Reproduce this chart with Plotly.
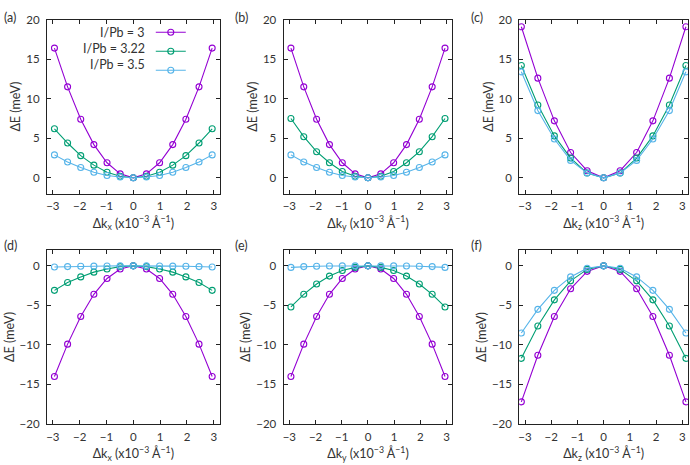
import plotly.graph_objects as go
from plotly.subplots import make_subplots

# ---- data ----
k_xy = [-2.94, -2.45, -1.96, -1.47, -0.98, -0.49, 0.0, 0.49, 0.98, 1.47, 1.96, 2.45, 2.94]
k_z = [-3.14, -2.51, -1.88, -1.26, -0.63, 0.0, 0.63, 1.26, 1.88, 2.51, 3.14]

series_names = ["I/Pb = 3", "I/Pb = 3.22", "I/Pb = 3.5"]
series_colors = ["#9400d3", "#009e73", "#56b4e9"]

# (a) kx, upper band
a_3 = [16.4, 11.5, 7.4, 4.2, 1.9, 0.5, 0.0, 0.5, 1.9, 4.2, 7.4, 11.5, 16.4]
a_322 = [6.2, 4.4, 2.8, 1.6, 0.7, 0.2, 0.0, 0.2, 0.7, 1.6, 2.8, 4.4, 6.2]
a_35 = [2.9, 2.0, 1.3, 0.7, 0.3, 0.1, 0.0, 0.1, 0.3, 0.7, 1.3, 2.0, 2.9]
# (b) ky, upper band
b_3 = [16.4, 11.5, 7.4, 4.2, 1.9, 0.5, 0.0, 0.5, 1.9, 4.2, 7.4, 11.5, 16.4]
b_322 = [7.5, 5.2, 3.3, 1.9, 0.8, 0.2, 0.0, 0.2, 0.8, 1.9, 3.3, 5.2, 7.5]
b_35 = [2.9, 2.0, 1.3, 0.7, 0.3, 0.1, 0.0, 0.1, 0.3, 0.7, 1.3, 2.0, 2.9]
# (c) kz, upper band
c_3 = [19.1, 12.6, 7.2, 3.2, 0.9, 0.0, 0.9, 3.2, 7.2, 12.6, 19.1]
c_322 = [14.2, 9.2, 5.3, 2.5, 0.6, 0.0, 0.6, 2.5, 5.3, 9.2, 14.2]
c_35 = [13.4, 8.5, 4.9, 2.2, 0.6, 0.0, 0.6, 2.2, 4.9, 8.5, 13.4]
# (d) kx, lower band
d_3 = [-14.0, -9.9, -6.4, -3.6, -1.6, -0.4, 0.0, -0.4, -1.6, -3.6, -6.4, -9.9, -14.0]
d_322 = [-3.1, -2.1, -1.4, -0.8, -0.4, -0.1, 0.0, -0.1, -0.4, -0.8, -1.4, -2.1, -3.1]
d_35 = [-0.15, -0.1, -0.06, -0.04, -0.02, -0.01, 0.0, -0.01, -0.02, -0.04, -0.06, -0.1, -0.15]
# (e) ky, lower band
e_3 = [-14.0, -9.9, -6.4, -3.6, -1.6, -0.4, 0.0, -0.4, -1.6, -3.6, -6.4, -9.9, -14.0]
e_322 = [-5.2, -3.6, -2.3, -1.3, -0.6, -0.2, 0.0, -0.2, -0.6, -1.3, -2.3, -3.6, -5.2]
e_35 = [-0.2, -0.1, -0.05, -0.02, -0.01, 0.0, 0.0, 0.0, -0.01, -0.02, -0.05, -0.1, -0.2]
# (f) kz, lower band
f_3 = [-17.2, -11.3, -6.4, -2.9, -0.7, 0.0, -0.7, -2.9, -6.4, -11.3, -17.2]
f_322 = [-11.7, -7.6, -4.3, -1.9, -0.45, 0.0, -0.45, -1.9, -4.3, -7.6, -11.7]
f_35 = [-8.5, -5.5, -3.1, -1.4, -0.3, 0.0, -0.3, -1.4, -3.1, -5.5, -8.5]

x_ticks = [-3, -2, -1, 0, 1, 2, 3]
y_ticks_top = [0, 5, 10, 15, 20]
y_ticks_bot = [-20, -15, -10, -5, 0]
panel_labels = ["(a)", "(b)", "(c)", "(d)", "(e)", "(f)"]
k_labels = ["x", "y", "z", "x", "y", "z"]

panels = [
    (k_xy, [a_3, a_322, a_35]),
    (k_xy, [b_3, b_322, b_35]),
    (k_z, [c_3, c_322, c_35]),
    (k_xy, [d_3, d_322, d_35]),
    (k_xy, [e_3, e_322, e_35]),
    (k_z, [f_3, f_322, f_35]),
]

W, H = 690, 465
FONT = "Lato, 'Open Sans', sans-serif"
TXT = "#333333"
TICK_SIZE = 11.5
LAB_SIZE = 12.5

fig = make_subplots(rows=2, cols=3)

xdoms = [(46 / W, 219 / W), (283 / W, 452 / W), (519 / W, 688 / W)]
ydoms = [(1 - 192 / H, 1 - 13 / H), (1 - 429 / H, 1 - 250 / H)]

for i, (kx, ys) in enumerate(panels):
    r, c = i // 3 + 1, i % 3 + 1
    for j, yv in enumerate(ys):
        fig.add_trace(
            go.Scatter(
                x=kx, y=yv, mode="lines+markers",
                name=" ",
                showlegend=(i == 0),
                legendgroup=series_names[j],
                line=dict(color=series_colors[j], width=1.1),
                marker=dict(symbol="circle-open", size=6, color=series_colors[j],
                            line=dict(width=1.1, color=series_colors[j])),
            ),
            row=r, col=c,
        )
    fig.update_xaxes(
        domain=list(xdoms[c - 1]), range=[-3.22, 3.22],
        tickvals=x_ticks, ticktext=[("−" + str(-t)) if t < 0 else str(t) for t in x_ticks],
        ticks="inside", ticklen=4, tickcolor="#222", mirror="allticks",
        showline=True, linecolor="#222", linewidth=1, showgrid=False, zeroline=False,
        tickfont=dict(size=TICK_SIZE, color=TXT, family=FONT), ticklabelstandoff=2,
        title=dict(text="Δk<sub>" + k_labels[i] + "</sub> (x10<sup>−3</sup> Å<sup>−1</sup>)",
                   font=dict(size=LAB_SIZE, color=TXT, family=FONT), standoff=7),
        row=r, col=c,
    )
    yt = y_ticks_top if r == 1 else y_ticks_bot
    fig.update_yaxes(
        domain=list(ydoms[r - 1]), range=[-2, 20] if r == 1 else [-20, 2],
        tickvals=yt, ticktext=[("−" + str(-t)) if t < 0 else str(t) for t in yt],
        ticks="inside", ticklen=4, tickcolor="#222", mirror="allticks",
        showline=True, linecolor="#222", linewidth=1, showgrid=False, zeroline=False,
        tickfont=dict(size=TICK_SIZE, color=TXT, family=FONT), ticklabelstandoff=4,
        title=dict(text="ΔE (meV)", font=dict(size=LAB_SIZE, color=TXT, family=FONT), standoff=2),
        row=r, col=c,
    )

label_pos = [(1, 1), (232, 1), (469, 1), (1, 236), (232, 236), (469, 236)]
for lab, (px, py) in zip(panel_labels, label_pos):
    fig.add_annotation(text=lab, x=px / W, y=1 - py / H, xref="paper", yref="paper",
                       xanchor="left", yanchor="top", showarrow=False,
                       font=dict(size=LAB_SIZE, color=TXT, family=FONT))

# legend texts (right-aligned, symbols to their right as in the reference)
legend_text_y = [26, 42.5, 59]
for name, ly in zip(series_names, legend_text_y):
    fig.add_annotation(text=name, x=146 / W, y=1 - ly / H, xref="paper", yref="paper",
                       xanchor="right", yanchor="middle", showarrow=False,
                       font=dict(size=LAB_SIZE, color=TXT, family=FONT))

fig.update_layout(
    width=W, height=H, margin=dict(l=0, r=0, t=0, b=0),
    plot_bgcolor="white", paper_bgcolor="white",
    font=dict(family=FONT, color=TXT, size=11),
    showlegend=True,
    legend=dict(x=150 / W, y=1 - 11 / H, xanchor="left", yanchor="top",
                bgcolor="rgba(0,0,0,0)", font=dict(size=11, color=TXT, family=FONT),
                tracegroupgap=0, itemwidth=30, borderwidth=0),
)

fig.write_html("out.html", config={"displayModeBar": False},
               post_script="document.body.style.margin='0';document.body.style.overflow='hidden';")
